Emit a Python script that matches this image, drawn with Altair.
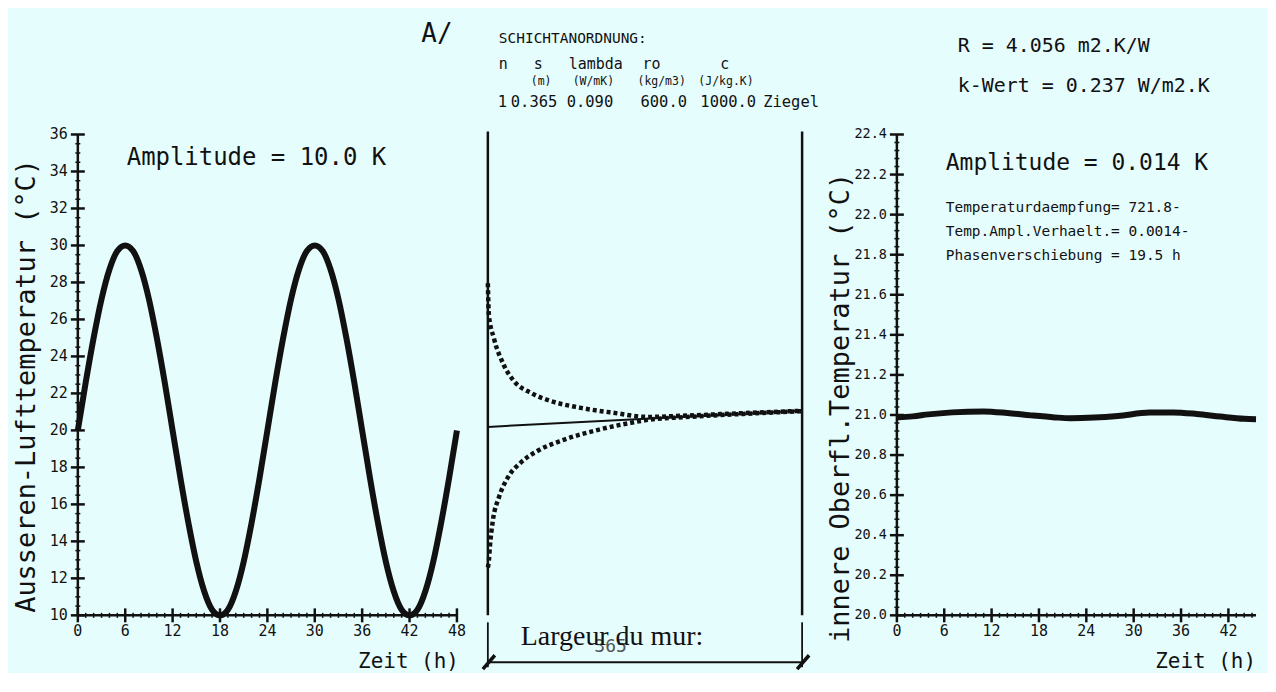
import altair as alt
import pandas as pd

MONO = "DejaVu Sans Mono"
SERIF = "Liberation Serif"
INK = "#111111"
BG = "#E6FDFD"

# ---------------- data ----------------
# left panel: outside air temperature (h, °C)
t_out = list(range(0, 49))
temp_out = [20.0, 22.6, 25.0, 27.1, 28.7, 29.7, 30.0, 29.7, 28.7, 27.1, 25.0, 22.6,
            20.0, 17.4, 15.0, 12.9, 11.3, 10.3, 10.0, 10.3, 11.3, 12.9, 15.0, 17.4,
            20.0, 22.6, 25.0, 27.1, 28.7, 29.7, 30.0, 29.7, 28.7, 27.1, 25.0, 22.6,
            20.0, 17.4, 15.0, 12.9, 11.3, 10.3, 10.0, 10.3, 11.3, 12.9, 15.0, 17.4,
            20.0]

# middle panel: temperature envelope through the wall (mm, °C)
wall_mm = 365
pos_upper = [0, 1.2, 7, 18.5, 30, 50, 69, 108, 146, 186, 230, 300, 365]
temp_upper = [27.96, 26.24, 24.99, 23.54, 22.68, 22.03, 21.65, 21.22, 20.95, 20.73, 20.80, 20.94, 21.06]
pos_lower = [0, 1.2, 2.3, 5.8, 12.7, 23, 38, 58, 88, 128, 166, 186, 230, 300, 365]
temp_lower = [12.59, 12.97, 13.67, 15.12, 16.36, 17.44, 18.25, 18.90, 19.49, 20.03, 20.41, 20.57, 20.72, 20.90, 21.04]
pos_mean = [0, 365]
temp_mean = [20.19, 21.06]
wall_edges = [0, 365]

# right panel: inner surface temperature (h, °C)
t_in = [0, 2, 4, 7, 11, 14, 17, 20, 22, 25, 28, 32, 35, 38, 41, 44, 45.5]
temp_in = [20.988, 20.993, 21.003, 21.013, 21.018, 21.010, 20.998, 20.988, 20.984,
           20.987, 20.995, 21.012, 21.013, 21.005, 20.992, 20.981, 20.979]

# axis ticks and tick labels
x_major = list(range(0, 49, 6))
x_labels = [str(v) for v in x_major]
x_minor = [h for h in range(0, 49) if h % 6 != 0]
y1_major = list(range(10, 37, 2))
y1_labels = [str(v) for v in y1_major]
y1_minor = [v / 2 for v in range(20, 73) if v % 4 != 0]
y3_major = [round(20.0 + 0.2 * i, 2) for i in range(13)]
y3_labels = [f"{v:.1f}" for v in y3_major]
y3_minor = [round(20.0 + 0.04 * i, 2) for i in range(61) if i % 5 != 0]
x3_major = list(range(0, 43, 6))
x3_labels = [str(v) for v in x3_major]
x3_minor = [h for h in range(0, 46) if h % 6 != 0]

# texts
amp_left = "Amplitude = 10.0 K"
amp_right = "Amplitude = 0.014 K"
info_right = ["Temperaturdaempfung= 721.8-",
              "Temp.Ampl.Verhaelt.= 0.0014-",
              "Phasenverschiebung = 19.5 h"]
r_text = "R = 4.056 m2.K/W"
k_text = "k-Wert = 0.237 W/m2.K"
layer_title = "SCHICHTANORDNUNG:"
col_heads = ["n", "s", "lambda", "ro", "c"]
col_units = ["(m)", "(W/mK)", "(kg/m3)", "(J/kg.K)"]
col_vals = ["1", "0.365", "0.090", "600.0", "1000.0", "Ziegel"]
title_left = "Ausseren-Lufttemperatur  (°C)"
title_right = "innere Oberfl.Temperatur  (°C)"
x_title = "Zeit (h)"
wall_label = "Largeur du mur:"
mark_a = "A/"

# ---------------- layout ----------------
W1, H = 380, 482
W2, WALL_PX = 379, 315
W3 = 360
X3_MAX = 45.5
ONE = pd.DataFrame({"k": [0]})


def label(s, x, y, size, font=MONO, align="left", baseline="middle", color=INK, angle=0):
    return alt.Chart(pd.DataFrame({"label": [s]})).mark_text(
        align=align, baseline=baseline, font=font, fontSize=size, color=color, angle=angle
    ).encode(x=alt.value(x), y=alt.value(y), text="label:N")


def yticks(vals, scale, half, width):
    return alt.Chart(pd.DataFrame({"v": vals})).mark_rule(color=INK, strokeWidth=width).encode(
        y=alt.Y("v:Q", scale=scale, axis=None), x=alt.value(-half), x2=alt.value(half))


def xticks(vals, scale, half, width):
    return alt.Chart(pd.DataFrame({"v": vals})).mark_rule(color=INK, strokeWidth=width).encode(
        x=alt.X("v:Q", scale=scale, axis=None), y=alt.value(H - half), y2=alt.value(H + half))


def ylabels(vals, labs, scale, size):
    return alt.Chart(pd.DataFrame({"v": vals, "lab": labs})).mark_text(
        align="right", baseline="middle", font=MONO, fontSize=size, color=INK).encode(
        y=alt.Y("v:Q", scale=scale, axis=None), x=alt.value(-10), text="lab:N")


def xlabels(vals, labs, scale, size):
    return alt.Chart(pd.DataFrame({"v": vals, "lab": labs})).mark_text(
        align="center", baseline="top", font=MONO, fontSize=size, color=INK).encode(
        x=alt.X("v:Q", scale=scale, axis=None), y=alt.value(H + 9), text="lab:N")


def frame(width):
    yline = alt.Chart(ONE).mark_rule(color=INK, strokeWidth=2.5).encode(
        x=alt.value(0), y=alt.value(0), y2=alt.value(H))
    xline = alt.Chart(ONE).mark_rule(color=INK, strokeWidth=2.5).encode(
        x=alt.value(0), x2=alt.value(width), y=alt.value(H))
    return [yline, xline]


# ---- panel 1 ----
xs1 = alt.Scale(domain=[0, 48], nice=False, zero=False)
ys1 = alt.Scale(domain=[10, 36], nice=False, zero=False)
line1 = alt.Chart(pd.DataFrame({"t": t_out, "T": temp_out})).mark_line(
    color=INK, strokeWidth=6, interpolate="monotone").encode(
    x=alt.X("t:Q", scale=xs1, axis=None), y=alt.Y("T:Q", scale=ys1, axis=None))
p1 = alt.layer(
    line1, *frame(W1),
    yticks(y1_major, ys1, 7, 2.5), yticks(y1_minor, ys1, 2.5, 1.5),
    xticks(x_major, xs1, 7, 2.5), xticks(x_minor, xs1, 2.5, 1.5),
    ylabels(y1_major, y1_labels, ys1, 15), xlabels(x_major, x_labels, xs1, 15),
    label(title_left, -51, 252, 27, align="center", angle=270),
    label(x_title, W1 + 2, H + 47, 21, align="right"),
    label(amp_left, 49, 24, 24),
).properties(width=W1, height=H)

# ---- panel 2 ----
xs2 = alt.Scale(domain=[0, wall_mm * W2 / WALL_PX], nice=False, zero=False)
ys2 = alt.Scale(domain=[10, 36], nice=False, zero=False)
env_up = alt.Chart(pd.DataFrame({"p": pos_upper, "T": temp_upper})).mark_line(
    color=INK, strokeWidth=4.5, strokeDash=[4, 3], interpolate="monotone").encode(
    x=alt.X("p:Q", scale=xs2, axis=None), y=alt.Y("T:Q", scale=ys2, axis=None))
env_lo = alt.Chart(pd.DataFrame({"p": pos_lower, "T": temp_lower})).mark_line(
    color=INK, strokeWidth=4.5, strokeDash=[4, 3], interpolate="monotone").encode(
    x=alt.X("p:Q", scale=xs2, axis=None), y=alt.Y("T:Q", scale=ys2, axis=None))
mean_ln = alt.Chart(pd.DataFrame({"p": pos_mean, "T": temp_mean})).mark_line(
    color=INK, strokeWidth=2).encode(
    x=alt.X("p:Q", scale=xs2, axis=None), y=alt.Y("T:Q", scale=ys2, axis=None))
edges_df = pd.DataFrame({"p": wall_edges})
walls = alt.Chart(edges_df).mark_rule(color=INK, strokeWidth=2.5).encode(
    x=alt.X("p:Q", scale=xs2, axis=None), y=alt.value(-3), y2=alt.value(H))
ext = alt.Chart(edges_df).mark_rule(color=INK, strokeWidth=1.8).encode(
    x=alt.X("p:Q", scale=xs2, axis=None), y=alt.value(H + 7), y2=alt.value(H + 52))
dim = alt.Chart(pd.DataFrame({"a": [0], "b": [wall_mm]})).mark_rule(color=INK, strokeWidth=2).encode(
    x=alt.X("a:Q", scale=xs2, axis=None), x2="b:Q", y=alt.value(H + 47))
slants = alt.Chart(edges_df).mark_rule(color=INK, strokeWidth=3.5, xOffset=-5, x2Offset=7,
                                       yOffset=7, y2Offset=-7).encode(
    x=alt.X("p:Q", scale=xs2, axis=None), x2="p:Q", y=alt.value(H + 47), y2=alt.value(H + 47))

col_x_head = [11, 46, 81, 155, 233]
col_x_unit = [43, 85, 150, 211]
col_x_val = [10, 23, 79, 153, 213, 276]
texts2 = [label(mark_a, -51, -101, 26, align="center"),
          label(layer_title, 11, -96, 14.5)]
texts2 += [label(s, x, -71, 15) for s, x in zip(col_heads, col_x_head)]
texts2 += [label(s, x, -53, 11.5) for s, x in zip(col_units, col_x_unit)]
texts2 += [label(s, x, -33, 15.5) for s, x in zip(col_vals, col_x_val)]
texts2 += [label(str(wall_mm), 123, 514, 18, color="#555555", align="center"),
           label(wall_label, 33, 512, 28, font=SERIF, baseline="alphabetic")]
p2 = alt.layer(env_up, env_lo, mean_ln, walls, ext, dim, slants, *texts2).properties(width=W2, height=H)

# ---- panel 3 ----
xs3 = alt.Scale(domain=[0, X3_MAX], nice=False, zero=False)
ys3 = alt.Scale(domain=[20.0, 22.4], nice=False, zero=False)
line3 = alt.Chart(pd.DataFrame({"t": t_in, "T": temp_in})).mark_line(
    color=INK, strokeWidth=6, interpolate="monotone").encode(
    x=alt.X("t:Q", scale=xs3, axis=None), y=alt.Y("T:Q", scale=ys3, axis=None))
texts3 = [label(amp_right, 49, 29, 23),
          label(r_text, 61, -89, 20),
          label(k_text, 61, -49, 20)]
texts3 += [label(s, 49, 74 + 24 * i, 14.5) for i, s in enumerate(info_right)]
p3 = alt.layer(
    line3, *frame(W3),
    yticks(y3_major, ys3, 7, 2.5), yticks(y3_minor, ys3, 2.5, 1.5),
    xticks(x3_major, xs3, 7, 2.5), xticks(x3_minor, xs3, 2.5, 1.5),
    ylabels(y3_major, y3_labels, ys3, 13.5), xlabels(x3_major, x3_labels, xs3, 15),
    label(title_right, -56, 274, 27, align="center", angle=270),
    label(x_title, W3, H + 47, 21, align="right"),
    *texts3,
).properties(width=W3, height=H)

chart = alt.hconcat(p1, p2, p3, spacing=31, bounds="flush").properties(
    background=BG, padding={"left": 4, "top": 12, "right": 0, "bottom": 0}
).configure_view(strokeWidth=0)

chart.save("out.html", embed_options={"renderer": "svg", "actions": False})
